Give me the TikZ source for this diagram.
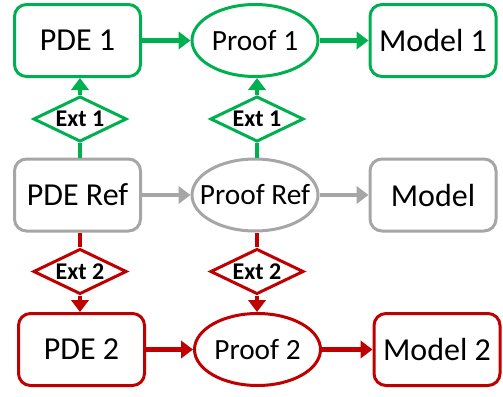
\documentclass[tikz,border=0pt]{standalone}
\usepackage{fontspec}
\setmainfont{Carlito}
\usetikzlibrary{shapes.geometric,arrows.meta}

\definecolor{extgreen}{RGB}{0,176,80}
\definecolor{refgray}{RGB}{166,166,166}
\definecolor{extred}{RGB}{192,0,0}

\tikzset{
  pdebox/.style={draw, rounded corners=9pt, line width=2.25pt, minimum width=94.5pt, minimum height=54pt, font=\fontsize{24}{28}\selectfont},
  % negative xsep keeps all ellipses the same size
  proof/.style={draw, ellipse, line width=2.25pt, minimum width=94.5pt, minimum height=54pt, inner xsep=-12pt, inner ysep=0pt, font=\fontsize{22}{26}\selectfont},
  ext/.style={draw, diamond, aspect=2, fill=white, line width=2.25pt, minimum width=70pt, minimum height=34pt, inner sep=0pt, font=\bfseries\fontsize{18}{21}\selectfont},
  link/.style={line width=3.4pt, -{Triangle[length=9pt,width=13pt]}},
  plain/.style={line width=3.4pt},
}

\begin{document}
\begin{tikzpicture}[x=0.75pt, y=-0.75pt]
\useasboundingbox (0,0) rectangle (503,396);

% extension 1
\node[pdebox, draw=extgreen] at (77.5, 40.5) (11) {PDE 1};
\node[proof, draw=extgreen] at (255, 40.5) (12) {Proof 1};
\node[pdebox, draw=extgreen] at (433, 40.5) (13) {Model 1};
\draw[link, extgreen] (11) -- (12);
\draw[link, extgreen] (12) -- (13);
\node[ext, draw=extgreen] at (80, 119) (111) {Ext 1};
\node[ext, draw=extgreen] at (257, 119) (121) {Ext 1};

% reference
\node[pdebox, draw=refgray] at (77.5, 195) (21) {PDE Ref};
\node[proof, draw=refgray] at (255, 195) (22) {Proof Ref};
\node[pdebox, draw=refgray] at (433, 195) (23) {Model};
\draw[link, refgray] (21) -- (22);
\draw[link, refgray] (22) -- (23);

% extension 2
\node[ext, draw=extred] at (80, 271.5) (211) {Ext 2};
\node[ext, draw=extred] at (257, 271.5) (221) {Ext 2};
\node[pdebox, draw=extred] at (81.5, 349.5) (31) {PDE 2};
\node[proof, draw=extred] at (257.5, 349.5) (32) {Proof 2};
\node[pdebox, draw=extred] at (437, 349.5) (33) {Model 2};
\draw[link, extred] (31) -- (32);
\draw[link, extred] (32) -- (33);

% up and down from the reference
\draw[plain, extgreen] (111 |- 21.north) -- (111);
\draw[link, extgreen] (111) -- (111 |- 11.south);
\draw[plain, extgreen] (121 |- 22.north) -- (121);
\draw[link, extgreen] (121) -- (121 |- 12.south);
\draw[plain, extred] (211 |- 21.south) -- (211);
\draw[link, extred] (211) -- (211 |- 31.north);
\draw[plain, extred] (221 |- 22.south) -- (221);
\draw[link, extred] (221) -- (221 |- 32.north);
\end{tikzpicture}
\end{document}
